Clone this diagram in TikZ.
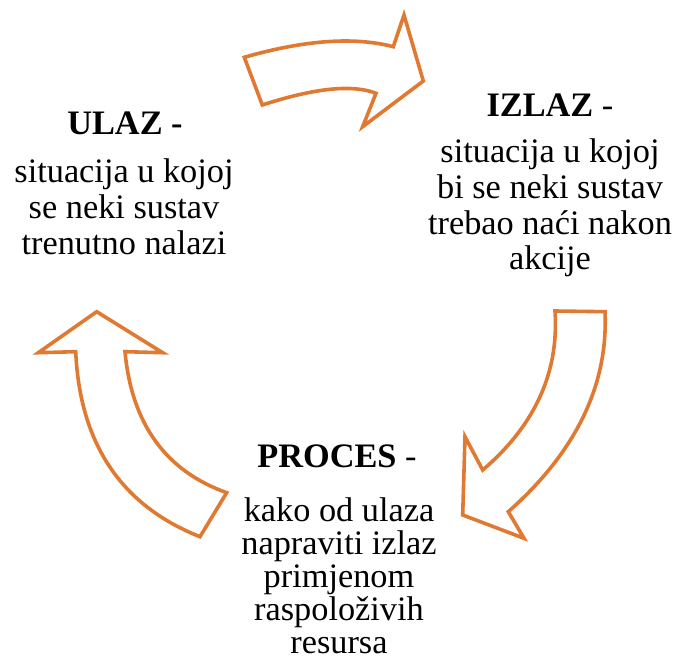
\documentclass[tikz,border=0pt]{standalone}
\usepackage{fontspec}
\setmainfont{Liberation Serif}
\definecolor{arrowor}{HTML}{E07A32}
\begin{document}
\begin{tikzpicture}[x=1pt,y=-1pt,
  blockarrow/.style={draw=arrowor,line width=3.6pt,fill=white,line join=miter},
  txt/.style={anchor=base,inner sep=0pt,font=\fontsize{34.3}{38}\selectfont}]
\useasboundingbox (0,0) rectangle (675,663);
% top arrow
\draw[blockarrow] (244.3,57.3) .. controls (304.5,40.0) and (354.2,36.5) .. (393.3,46.7)
  -- (404,15) -- (423.3,81) -- (362.7,126.7) -- (376,93.3)
  .. controls (352.6,84.1) and (314.7,88.0) .. (262.3,105) -- cycle;
% right arrow
\draw[blockarrow] (555,311) -- (605,311.7)
  .. controls (608.3,385) and (576.1,451.7) .. (508.3,511.7)
  -- (524,538.3) -- (462.7,515) -- (465,436.7) -- (482.7,470)
  .. controls (535.0,425.3) and (559.1,372.3) .. (555,311) -- cycle;
% left arrow
\draw[blockarrow] (96.7,311.7) -- (162.7,352.7) -- (125,351.7)
  .. controls (131.7,423.9) and (165.6,470.9) .. (226.7,492.7)
  -- (200,536.7)
  .. controls (121.3,505.6) and (79.9,443.9) .. (75.7,351.7)
  -- (38.3,352.7) -- cycle;
% ULAZ
\node[txt] (u0) at (125,135) {\textbf{ULAZ -}};
\node[txt] (u1) at (124,183) {situacija u kojoj};
\node[txt] (u2) at (124,219) {se neki sustav};
\node[txt] (u3) at (124,255) {trenutno nalazi};
% IZLAZ
\node[txt] (i0) at (550,117) {\textbf{IZLAZ} -};
\node[txt] (i1) at (550,163) {situacija u kojoj};
\node[txt] (i2) at (550,199) {bi se neki sustav};
\node[txt] (i3) at (550,235) {trebao naći nakon};
\node[txt] (i4) at (550,270) {akcije};
% PROCES
\node[txt] (p0) at (337,467) {\textbf{PROCES} -};
\node[txt] (p1) at (339,521) {kako od ulaza};
\node[txt] (p2) at (339,554) {napraviti izlaz};
\node[txt] (p3) at (339,587) {primjenom};
\node[txt] (p4) at (339,620) {raspoloživih};
\node[txt] (p5) at (339,653) {resursa};
\end{tikzpicture}
\end{document}
